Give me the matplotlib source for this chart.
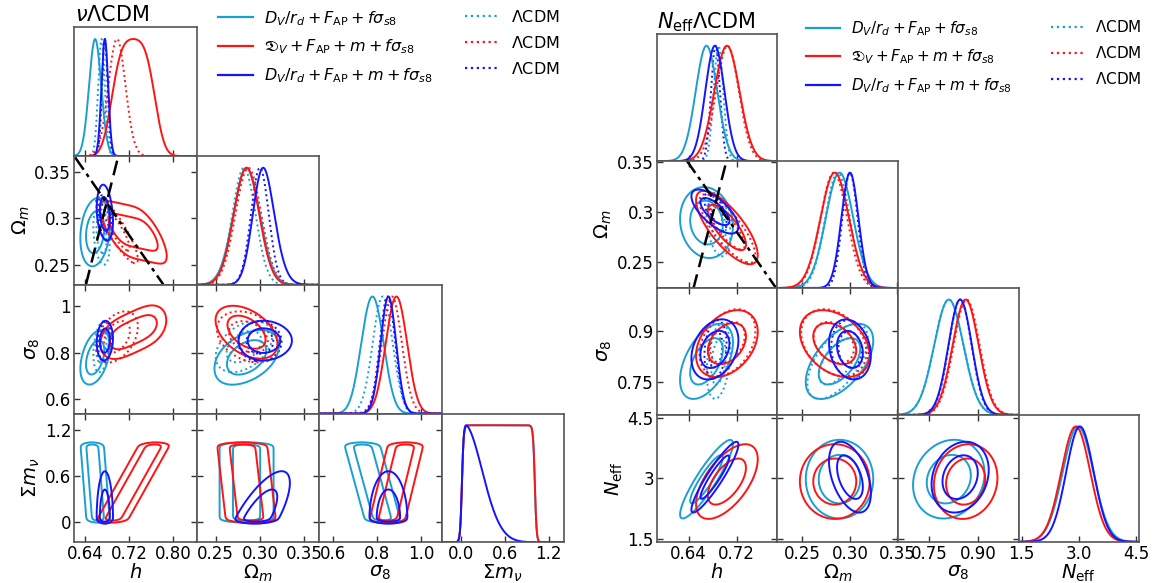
import numpy as np
import matplotlib
matplotlib.use('Agg')
import matplotlib.pyplot as plt
from matplotlib.lines import Line2D

W, H = 1158, 583

# colours / styles of the six chains: three data combinations, solid = extended model, dotted = LCDM
CYAN, RED, BLUE = '#1a9fd4', '#ff1414', '#1414ff'
chain_colors = [CYAN, RED, BLUE, CYAN, RED, BLUE]
chain_styles = ['-', '-', '-', ':', ':', ':']
legend_labels = [r'$D_V/r_d + F_{\rm AP} + f\sigma_{s8}$',
                 r'$\mathfrak{D}_V + F_{\rm AP} + m + f\sigma_{s8}$',
                 r'$D_V/r_d + F_{\rm AP} + m + f\sigma_{s8}$']

# ---------------- nu-LCDM ----------------
# (h, Omega_m, sigma_8); for the three solid chains these are the values at sum m_nu = 0
nu_mean = [[0.664, 0.285, 0.828],
           [0.688, 0.290, 0.845],
           [0.676, 0.295, 0.852],
           [0.670, 0.282, 0.826],
           [0.698, 0.287, 0.868],
           [0.676, 0.300, 0.848]]
nu_std = [[0.0105, 0.015, 0.040],
          [0.014, 0.014, 0.040],
          [0.006, 0.010, 0.035],
          [0.006, 0.013, 0.045],
          [0.0155, 0.0145, 0.045],
          [0.005, 0.010, 0.035]]
# correlations (h,Om), (h,s8), (Om,s8)
nu_rho = [[0.2, 0.3, 0.5],
          [-0.8, 0.2, -0.4],
          [-0.3, 0.1, 0.0],
          [-0.3, 0.3, 0.4],
          [-0.88, 0.4, -0.3],
          [-0.4, 0.1, 0.0]]
# shift of (h, Om, s8) per eV of sum m_nu (solid chains)
nu_slope = [[-0.011, 0.0, -0.095],
            [0.078, -0.010, 0.085],
            [0.0, 0.045, 0.0]]
mnu_upper = [1.01, 1.01, None]   # edge of the flat part of the sum m_nu posterior
mnu_tail = [None, None, 0.255]   # gaussian fall-off width

nu_dash_h, nu_dash_om = [0.6418, 0.7005], [0.229, 0.3667]
nu_dashdot_h, nu_dashdot_om = [0.622, 0.782], [0.3653, 0.229]

nu_limits = [(0.620, 0.8425), (0.2285, 0.3667), (0.537, 1.093), (-0.27, 1.41)]
nu_xticks = [[0.64, 0.72, 0.80], [0.25, 0.30, 0.35], [0.6, 0.8, 1.0], [0.0, 0.6, 1.2]]
nu_xticklabels = [['0.64', '0.72', '0.80'], ['0.25', '0.30', '0.35'], ['0.6', '0.8', '1.0'], ['0.0', '0.6', '1.2']]
nu_yticks = [None, [0.25, 0.30, 0.35], [0.6, 0.8, 1.0], [0.0, 0.6, 1.2]]
nu_yticklabels = [None, ['0.25', '0.3', '0.35'], ['0.6', '0.8', '1'], ['0', '0.6', '1.2']]
nu_labels = [r'$h$', r'$\Omega_m$', r'$\sigma_8$', r'$\Sigma m_\nu$']

# ---------------- Neff-LCDM ----------------
# (h, Omega_m, sigma_8, Neff) for solid chains, (h, Omega_m, sigma_8) for LCDM
neff_mean = [[0.670, 0.289, 0.810, 2.98],
             [0.704, 0.284, 0.862, 2.92],
             [0.684, 0.300, 0.845, 3.03],
             [0.690, 0.287, 0.810],
             [0.705, 0.283, 0.865],
             [0.685, 0.300, 0.845]]
neff_std = [[0.018, 0.0145, 0.045, 0.40],
            [0.021, 0.015, 0.040, 0.38],
            [0.016, 0.009, 0.036, 0.36],
            [0.008, 0.013, 0.045],
            [0.019, 0.014, 0.040],
            [0.0075, 0.008, 0.035]]
# correlations (h,Om), (h,s8), (h,N), (Om,s8), (Om,N), (s8,N)  /  (h,Om), (h,s8), (Om,s8)
neff_rho = [[-0.1, 0.5, 0.9, 0.55, 0.0, 0.15],
            [-0.75, 0.35, 0.6, -0.35, 0.0, 0.1],
            [-0.7, 0.3, 0.92, -0.2, -0.45, 0.2],
            [-0.3, 0.3, 0.6],
            [-0.8, 0.35, -0.3],
            [-0.6, 0.2, -0.1]]

neff_dash_h, neff_dash_om = [0.648, 0.7035], [0.2226, 0.351]
neff_dashdot_h, neff_dashdot_om = [0.637, 0.787], [0.351, 0.2226]

neff_limits = [(0.587, 0.788), (0.2235, 0.3505), (0.653, 1.025), (1.42, 4.58)]
neff_xticks = [[0.64, 0.72], [0.25, 0.30, 0.35], [0.75, 0.90], [1.5, 3.0, 4.5]]
neff_xticklabels = [['0.64', '0.72'], ['0.25', '0.30', '0.35'], ['0.75', '0.90'], ['1.5', '3.0', '4.5']]
neff_yticks = [None, [0.25, 0.30, 0.35], [0.75, 0.90], [1.5, 3.0, 4.5]]
neff_yticklabels = [None, ['0.25', '0.3', '0.35'], ['0.75', '0.9'], ['1.5', '3', '4.5']]
neff_labels = [r'$h$', r'$\Omega_m$', r'$\sigma_8$', r'$N_{\rm eff}$']


def mnu_density(m, upper, tail, edge=0.012):
    p = 1.0 / (1.0 + np.exp(-(m - 0.01) / edge))
    if upper is not None:
        p = p / (1.0 + np.exp((m - upper) / edge))
    if tail is not None:
        p = p * np.exp(-0.5 * np.clip(m - 0.03, 0, None) ** 2 / tail ** 2)
    return p


def build_cov(std, rho):
    n = len(std)
    c = np.eye(n)
    pairs = [(a, b) for a in range(n) for b in range(a + 1, n)]
    for (a, b), r in zip(pairs, rho):
        c[a, b] = c[b, a] = r
    s = np.array(std)
    return c * np.outer(s, s)


def make_chain(mean, std, rho, slope=None, upper=None, tail=None, mnu=False):
    n = len(mean)
    ch = dict(mean=np.array(mean), cov=build_cov(std, rho), mnu=mnu, upper=upper, tail=tail)
    if mnu:
        ch['slope'] = np.array(slope)
        mg = np.linspace(-0.1, 1.5, 161)
        w = mnu_density(mg, upper, tail)
        keep = w > 1e-4 * w.max()
        ch['mg'], ch['w'] = mg[keep], w[keep] / w.sum()
    else:
        ch['slope'] = np.zeros(n)
        ch['mg'], ch['w'] = np.array([0.0]), np.array([1.0])
    ch['nparams'] = n + (1 if mnu else 0)
    return ch


def gauss2(dx, dy, cov):
    sxx, syy, sxy = cov[0, 0], cov[1, 1], cov[0, 1]
    det = sxx * syy - sxy ** 2
    q = (syy * dx ** 2 - 2 * sxy * dx * dy + sxx * dy ** 2) / det
    return np.exp(-0.5 * q) / np.sqrt(det)


def gauss1(dx, var):
    return np.exp(-0.5 * dx ** 2 / var) / np.sqrt(var)


def density2d(ch, i, j, X, Y):
    n = len(ch['mean'])
    mu, s, cov = ch['mean'], ch['slope'], ch['cov']
    if ch['mnu'] and j == n:
        return mnu_density(Y, ch['upper'], ch['tail']) * gauss1(X - mu[i] - s[i] * Y, cov[i, i])
    sub = cov[np.ix_([i, j], [i, j])]
    Z = np.zeros_like(X)
    for m, w in zip(ch['mg'], ch['w']):
        Z += w * gauss2(X - mu[i] - s[i] * m, Y - mu[j] - s[j] * m, sub)
    return Z


def density1d(ch, i, x):
    n = len(ch['mean'])
    if ch['mnu'] and i == n:
        return mnu_density(x, ch['upper'], ch['tail'])
    mu, s, cov = ch['mean'], ch['slope'], ch['cov']
    y = np.zeros_like(x)
    for m, w in zip(ch['mg'], ch['w']):
        y += w * gauss1(x - mu[i] - s[i] * m, cov[i, i])
    return y


def hpd_levels(Z, probs=(0.95, 0.68)):
    z = np.sort(Z.ravel())[::-1]
    c = np.cumsum(z)
    c /= c[-1]
    return [z[min(np.searchsorted(c, p), len(z) - 1)] for p in probs]


nu_chains = []
for k in range(6):
    if k < 3:
        nu_chains.append(make_chain(nu_mean[k], nu_std[k], nu_rho[k], nu_slope[k],
                                    mnu_upper[k], mnu_tail[k], mnu=True))
    else:
        nu_chains.append(make_chain(nu_mean[k], nu_std[k], nu_rho[k]))
neff_chains = [make_chain(neff_mean[k], neff_std[k], neff_rho[k]) for k in range(6)]

fig = plt.figure(figsize=(W / 100, H / 100), dpi=100)
SPINE = '#555555'


def add_panel(x0, y0, w, h):
    return fig.add_axes([x0 / W, 1 - (y0 + h) / H, w / W, h / H])


def style(ax):
    for sp in ax.spines.values():
        sp.set_color(SPINE)
        sp.set_linewidth(1.2)


def draw_triangle(x0, y0, pw, ph, limits, xticks, xtl, yticks, ytl, labels, chains, lines):
    draw_order = [3, 4, 5, 0, 1, 2]
    n = 4
    for row in range(n):
        for col in range(row + 1):
            ax = add_panel(x0 + col * pw, y0 + row * ph, pw, ph)
            style(ax)
            xlo, xhi = limits[col]
            if row == col:
                x = np.linspace(xlo, xhi, 500)
                for k in draw_order:
                    ch = chains[k]
                    if col >= ch['nparams']:
                        continue
                    y = density1d(ch, col, x)
                    ax.plot(x, y / y.max(), color=chain_colors[k], ls=chain_styles[k], lw=1.4)
                ax.set_ylim(0, 1.1)
                ax.tick_params(axis='y', left=False, labelleft=False)
                ax.tick_params(axis='x', direction='in', length=4, width=1, color='#333333',
                               labelsize=12, top=False, pad=2)
            else:
                ylo, yhi = limits[row]
                xs, ys = xhi - xlo, yhi - ylo
                gx = np.linspace(xlo - 0.6 * xs, xhi + 0.6 * xs, 280)
                gy = np.linspace(ylo - 0.6 * ys, yhi + 0.6 * ys, 280)
                X, Y = np.meshgrid(gx, gy)
                for k in draw_order:
                    ch = chains[k]
                    if row >= ch['nparams']:
                        continue
                    Z = density2d(ch, col, row, X, Y)
                    ax.contour(X, Y, Z, levels=hpd_levels(Z), colors=[chain_colors[k]],
                               linestyles=chain_styles[k], linewidths=1.4)
                ax.set_ylim(ylo, yhi)
                ax.set_yticks(yticks[row])
                ax.tick_params(direction='in', length=4, width=1, color='#333333', labelsize=12,
                               top=True, right=True, pad=2)
                if col == 0:
                    ax.set_yticklabels(ytl[row])
                    ax.set_ylabel(labels[row], fontsize=14, labelpad=2)
                else:
                    ax.tick_params(labelleft=False)
                if row == 1 and col == 0:
                    (dh, dom), (ddh, ddom) = lines
                    ax.plot(dh, dom, color='k', ls=(0, (6, 3)), lw=1.8, clip_on=False)
                    ax.plot(ddh, ddom, color='k', ls=(0, (6, 2, 1.5, 2)), lw=1.8, clip_on=False)
            ax.set_xlim(xlo, xhi)
            ax.set_xticks(xticks[col])
            if row == n - 1:
                ax.set_xticklabels(xtl[col])
                ax.set_xlabel(labels[col], fontsize=14, labelpad=0)
            else:
                ax.tick_params(labelbottom=False)


draw_triangle(74, 27.3, 122.5, 128.75, nu_limits, nu_xticks, nu_xticklabels, nu_yticks,
              nu_yticklabels, nu_labels, nu_chains,
              ((nu_dash_h, nu_dash_om), (nu_dashdot_h, nu_dashdot_om)))
draw_triangle(656.7, 34.2, 120.6, 126.9, neff_limits, neff_xticks, neff_xticklabels, neff_yticks,
              neff_yticklabels, neff_labels, neff_chains,
              ((neff_dash_h, neff_dash_om), (neff_dashdot_h, neff_dashdot_om)))

fig.text(74.7 / W, 1 - 21 / H, r'$\nu\Lambda$CDM', fontsize=15, va='baseline')
fig.text(656.7 / W, 1 - 28.6 / H, r'$N_{\rm eff}\Lambda$CDM', fontsize=15, va='baseline')

solid = [Line2D([], [], color=c, lw=1.6) for c in chain_colors[:3]]
dotted = [Line2D([], [], color=c, lw=1.6, ls=':') for c in chain_colors[:3]]
for (hx, ty, fs, sp, hx2) in [(217.7, 9, 11.5, 0.62, 464.5), (806.3, 19, 11, 0.66, 1050.8)]:
    fig.legend(solid, legend_labels, loc='upper left', bbox_to_anchor=(hx / W, 1 - ty / H),
               frameon=False, fontsize=fs, handlelength=2.2, handletextpad=0.7,
               labelspacing=sp, borderpad=0, borderaxespad=0)
    fig.legend(dotted, [r'$\Lambda$CDM'] * 3, loc='upper left', bbox_to_anchor=(hx2 / W, 1 - ty / H),
               frameon=False, fontsize=fs, handlelength=2.2, handletextpad=0.7,
               labelspacing=sp, borderpad=0, borderaxespad=0)

fig.savefig('out.png', dpi=100)
